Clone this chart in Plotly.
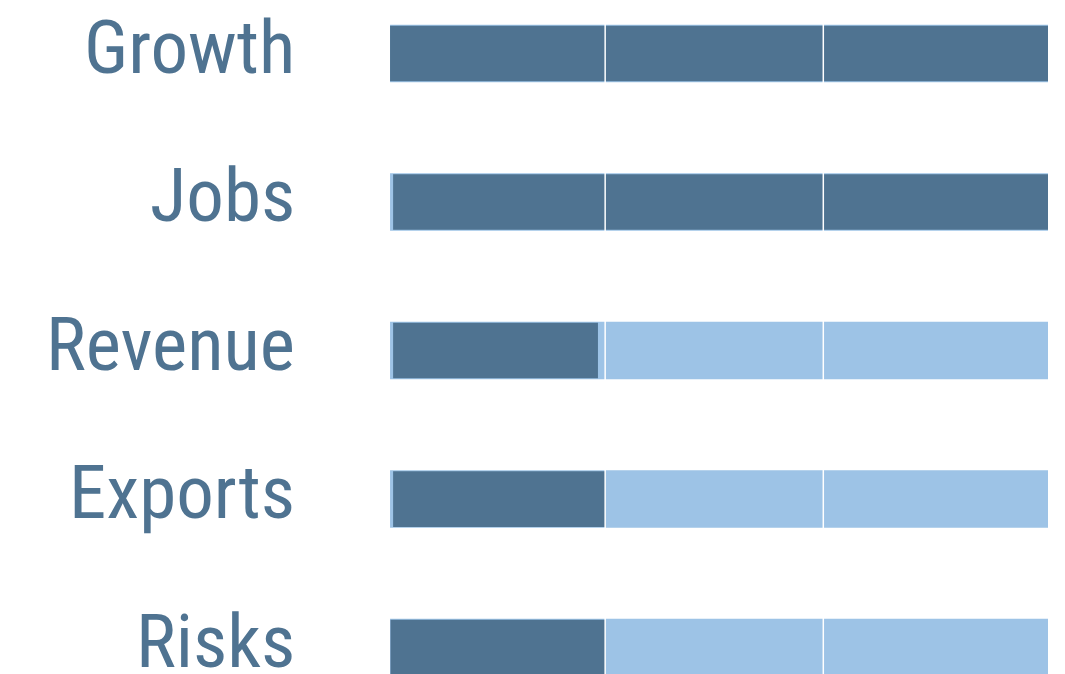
import plotly.graph_objects as go

categories = ["Growth", "Jobs", "Revenue", "Exports", "Risks"]
range_start = [0.014, 0.014, 0.014, 0.014, 0.014]
range_end = [3.03, 3.03, 3.03, 3.03, 3.03]
measure_start = [0.014, 0.028, 0.028, 0.028, 0.016]
measure_end = [3.03, 3.03, 0.967, 1.0, 1.0]
grid_ticks = [1, 2]

DARK = "#4f7391"
LIGHT = "#9dc3e6"

ypos = list(range(len(categories)))

fig = go.Figure()
fig.add_trace(go.Bar(
    y=ypos, x=[e - s for s, e in zip(range_start, range_end)], base=range_start, orientation="h",
    width=0.387, marker=dict(color=LIGHT, line=dict(width=0)),
    hoverinfo="skip", showlegend=False,
))
fig.add_trace(go.Bar(
    y=ypos, x=[e - s for s, e in zip(measure_start, measure_end)], base=measure_start,
    orientation="h", width=0.375, marker=dict(color=DARK, line=dict(width=0)),
    customdata=categories, hovertemplate="%{customdata}: %{x}<extra></extra>",
    showlegend=False,
))
for t in grid_ticks:
    fig.add_vline(x=t, line=dict(color="white", width=1.5), layer="above")

for i, c in enumerate(categories):
    fig.add_annotation(
        x=0, xref="paper", y=i, yref="y", text=c, showarrow=False,
        xanchor="right", yanchor="middle", xshift=-90, yshift=7,
        font=dict(family="Roboto Condensed, Liberation Sans Narrow, sans-serif", size=75, color=DARK),
    )

fig.update_layout(
    barmode="overlay",
    width=1065, height=674,
    margin=dict(l=379, r=25, t=0, b=0),
    paper_bgcolor="white", plot_bgcolor="white",
    xaxis=dict(range=[0, 3.03], showgrid=False, zeroline=False, showticklabels=False, ticks=""),
    yaxis=dict(range=[4.232, -0.3064], showgrid=False, zeroline=False, showticklabels=False, ticks=""),
)
fig.write_html("out.html")
